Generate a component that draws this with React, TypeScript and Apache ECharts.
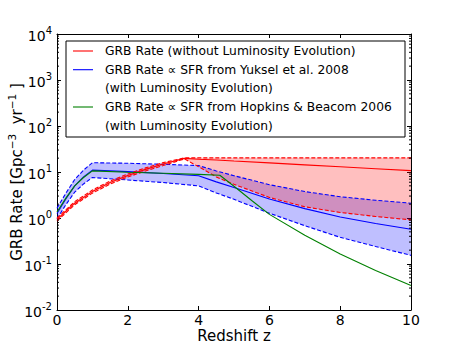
import React, { useEffect, useRef } from "react";
import * as echarts from "echarts";

// ---- data ----
const redZ = [0, 0.5, 1, 1.5, 2, 2.5, 3, 3.6, 4, 4.5, 5, 6, 7, 8, 9, 10];
const redCenter = [0.93, 2.1, 3.75, 5.9, 8.4, 11.4, 14.9, 19.8, 19.0, 18.2, 17.3, 15.8, 14.3, 13.0, 11.8, 10.7];
const redUpper = [1.0, 2.27, 4.05, 6.35, 9.05, 12.3, 16.0, 20.3, 20.3, 20.3, 20.3, 20.3, 20.3, 20.3, 20.3, 20.3];
const redLower = [0.86, 1.94, 3.47, 5.45, 7.8, 10.5, 13.8, 19.3, 13.0, 7.8, 5.4, 2.8, 1.75, 1.32, 1.08, 0.91];

const blueZ = [0, 0.25, 0.5, 0.75, 1, 2, 3, 4, 4.5, 5, 6, 7, 8, 9, 10];
const blueCenter = [1.25, 2.6, 5.0, 7.8, 11.0, 10.2, 9.3, 8.3, 6.1, 4.6, 2.6, 1.6, 1.05, 0.76, 0.57];
const blueUpper = [1.63, 3.46, 6.85, 11.0, 15.9, 15.5, 14.7, 13.8, 10.55, 8.3, 5.3, 3.76, 2.9, 2.43, 2.1];
const blueLower = [0.96, 1.95, 3.65, 5.5, 7.6, 6.7, 5.9, 5.0, 3.5, 2.55, 1.27, 0.68, 0.38, 0.24, 0.154];

const greenZ = [0, 0.25, 0.5, 0.75, 1, 2, 3, 4, 4.6, 5, 5.5, 6, 7, 8, 9, 10];
const greenValues = [1.35, 2.7, 5.0, 7.6, 10.6, 9.9, 9.4, 8.9, 8.5, 4.9, 2.4, 1.2, 0.42, 0.165, 0.072, 0.034];

const xTicks = [0, 2, 4, 6, 8, 10];
const xTitle = "Redshift z";
const legendLabels = [
  "GRB Rate (without Luminosity Evolution)",
  "GRB Rate \u221D SFR from Yuksel et al. 2008",
  "(with Luminosity Evolution)",
  "GRB Rate \u221D SFR from Hopkins & Beacom 2006",
  "(with Luminosity Evolution)",
];

const FONT = "DejaVu Sans";
const RED = "#ff0000";
const BLUE = "#0000ff";
const GREEN = "#008000";

const pairs = (xs: number[], ys: number[]) => xs.map((x, i) => [x, ys[i]]);

// minor log ticks 2..9 x 10^k
const minorTickValues: number[] = [];
for (let k = -2; k < 4; k++) {
  for (let m = 2; m <= 9; m++) minorTickValues.push(m * Math.pow(10, k));
}

function bandSeries(xs: number[], up: number[], lo: number[], fill: string, z: number) {
  return {
    type: "custom",
    coordinateSystem: "cartesian2d",
    xAxisIndex: 0,
    yAxisIndex: 0,
    silent: true,
    z,
    data: [[0, 1]],
    renderItem: (_p: any, api: any) => {
      const pts: number[][] = [];
      xs.forEach((x, i) => pts.push(api.coord([x, up[i]])));
      for (let i = xs.length - 1; i >= 0; i--) pts.push(api.coord([xs[i], lo[i]]));
      return { type: "polygon", shape: { points: pts }, style: { fill } };
    },
  };
}

function lineSeries(data: number[][], color: string, dashed: boolean, z: number) {
  return {
    type: "line",
    data,
    xAxisIndex: 0,
    yAxisIndex: 0,
    symbol: "none",
    silent: true,
    z,
    lineStyle: { color, width: 1.1, type: dashed ? [4, 2] : "solid" },
  };
}

export default function App() {
  const ref = useRef<HTMLDivElement>(null);
  useEffect(() => {
    if (!ref.current) return;
    const chart = echarts.init(ref.current, null, { renderer: "svg" });
    const L = 57, T = 34, W = 354, H = 276;
    const yLabel = (v: number) => {
      const e = Math.round(Math.log10(v));
      return `{b|10}{s|${e}}`;
    };
    const richY = {
      b: { fontSize: 14, fontFamily: FONT, color: "#000", verticalAlign: "bottom", lineHeight: 18 },
      s: { fontSize: 10, fontFamily: FONT, color: "#000", verticalAlign: "top", lineHeight: 18, padding: [0, 0, 10, 0] },
    };
    const legendX = 66, legendY = 41;
    const rowY = [51, 69.7, 88.4, 107, 125.7];
    const graphics: any[] = [
      {
        type: "rect",
        shape: { x: legendX, y: legendY, width: 339, height: 96 },
        style: { fill: "#fff", stroke: "#000", lineWidth: 1 },
        z: 100,
      },
      {
        type: "text",
        x: 15,
        y: 172,
        rotation: Math.PI / 2,
        style: {
          text: "{a|GRB Rate [Gpc}{s|\u22123}{a|  yr}{s|\u22121}{a| ]}",
          textAlign: "center",
          textVerticalAlign: "middle",
          rich: {
            a: { fontSize: 15, fontFamily: FONT, fill: "#000", verticalAlign: "bottom", lineHeight: 18 },
            s: { fontSize: 10.5, fontFamily: FONT, fill: "#000", verticalAlign: "top", lineHeight: 18, padding: [0, 0, 8, 0] },
          },
        },
        z: 101,
      },
      {
        type: "text",
        x: 234,
        y: 336,
        style: { text: xTitle, fill: "#000", font: `15px "${FONT}"`, textAlign: "center", textVerticalAlign: "middle" },
        z: 101,
      },
    ];
    const legendColors = [RED, BLUE, null, GREEN, null];
    legendLabels.forEach((t, i) => {
      const c = legendColors[i];
      if (c) {
        graphics.push({
          type: "line",
          shape: { x1: 73, y1: rowY[i], x2: 93, y2: rowY[i] },
          style: { stroke: c, lineWidth: 1.1 },
          z: 101,
        });
      }
      graphics.push({
        type: "text",
        x: 105,
        y: rowY[i],
        style: { text: t, fill: "#000", font: `12.3px "${FONT}"`, textVerticalAlign: "middle", textAlign: "left" },
        z: 101,
      });
    });

    const option: any = {
      animation: false,
      backgroundColor: "#fff",
      textStyle: { fontFamily: FONT },
      grid: { left: L, top: T, width: W, height: H, show: false, containLabel: false, outerBoundsMode: "none" },
      graphic: graphics,
      xAxis: [
        {
          type: "value",
          min: 0,
          max: 10,
          interval: 2,
          position: "bottom",
          axisLine: { show: true, onZero: false, lineStyle: { color: "#000", width: 1 } },
          axisTick: { show: true, inside: true, length: 4, lineStyle: { color: "#000" } },
          axisLabel: { color: "#000", fontSize: 14, fontFamily: FONT, margin: 3, lineHeight: 14, formatter: (v: number) => (xTicks.includes(v) ? String(v) : "") },
          splitLine: { show: false },
        },
        {
          type: "value",
          min: 0,
          max: 10,
          interval: 2,
          position: "top",
          axisLine: { show: true, onZero: false, lineStyle: { color: "#000", width: 1 } },
          axisTick: { show: true, inside: true, length: 4, lineStyle: { color: "#000" } },
          axisLabel: { show: false },
          splitLine: { show: false },
        },
      ],
      yAxis: [
        {
          type: "log",
          logBase: 10,
          min: 0.01,
          max: 10000,
          position: "left",
          axisLine: { show: true, onZero: false, lineStyle: { color: "#000", width: 1 } },
          axisTick: { show: true, inside: true, length: 4, lineStyle: { color: "#000" } },
          axisLabel: { color: "#000", margin: 5, formatter: yLabel, rich: richY, showMinLabel: true, showMaxLabel: true },
          splitLine: { show: false },
        },
        {
          type: "log",
          logBase: 10,
          min: 0.01,
          max: 10000,
          position: "right",
          axisLine: { show: true, onZero: false, lineStyle: { color: "#000", width: 1 } },
          axisTick: { show: true, inside: true, length: 4, lineStyle: { color: "#000" } },
          axisLabel: { show: false },
          splitLine: { show: false },
        },
      ],
      series: [
        bandSeries(blueZ, blueUpper, blueLower, "rgba(0,0,255,0.25)", 1),
        bandSeries(redZ, redUpper, redLower, "rgba(255,0,0,0.25)", 2),
        lineSeries(pairs(blueZ, blueUpper), BLUE, true, 3),
        lineSeries(pairs(blueZ, blueLower), BLUE, true, 3),
        lineSeries(pairs(blueZ, blueCenter), BLUE, false, 3),
        lineSeries(pairs(redZ, redUpper), RED, true, 4),
        lineSeries(pairs(redZ, redLower), RED, true, 4),
        lineSeries(pairs(redZ, redCenter), RED, false, 4),
        lineSeries(pairs(greenZ, greenValues), GREEN, false, 5),
        {
          type: "custom",
          coordinateSystem: "cartesian2d",
          xAxisIndex: 0,
          yAxisIndex: 0,
          silent: true,
          z: 6,
          data: minorTickValues.map((v) => [0, v]),
          renderItem: (params: any, api: any) => {
            const v = api.value(1);
            const p0 = api.coord([0, v]);
            const p1 = api.coord([10, v]);
            return {
              type: "group",
              children: [
                { type: "line", shape: { x1: p0[0], y1: p0[1], x2: p0[0] + 2, y2: p0[1] }, style: { stroke: "#000", lineWidth: 1 } },
                { type: "line", shape: { x1: p1[0], y1: p1[1], x2: p1[0] - 2, y2: p1[1] }, style: { stroke: "#000", lineWidth: 1 } },
              ],
            };
          },
        },
      ],
    };
    chart.setOption(option);
    return () => chart.dispose();
  }, []);
  return <div ref={ref} style={{ width: 457, height: 345, position: "absolute", left: 0, top: 0 }} />;
}
